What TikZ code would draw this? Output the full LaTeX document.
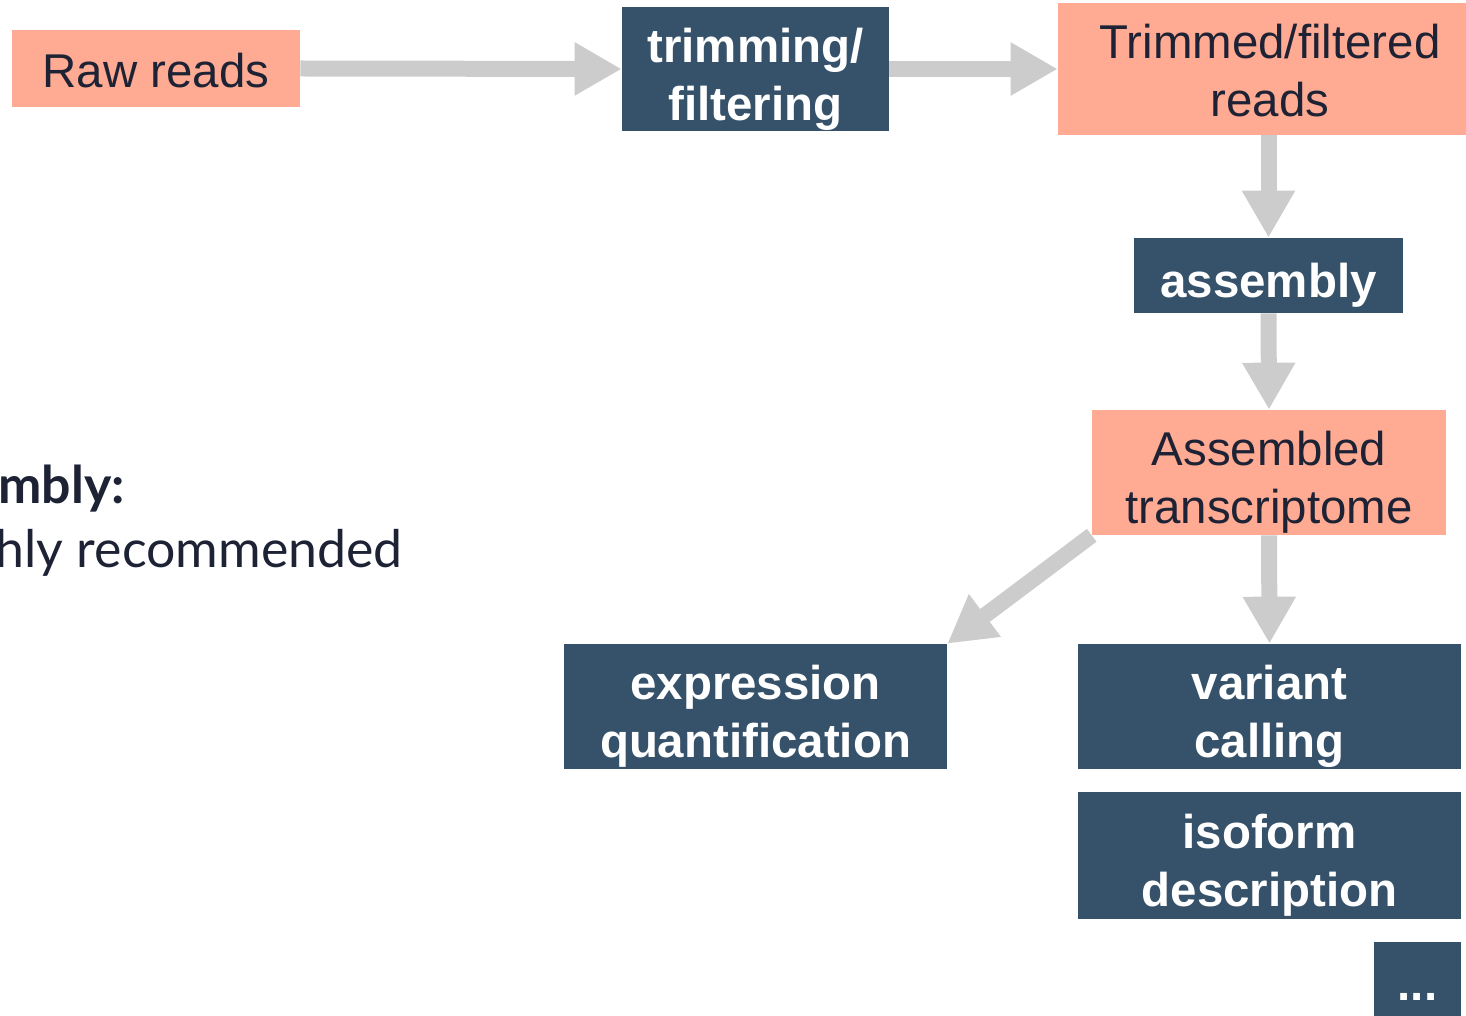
\documentclass[tikz,border=0pt]{standalone}
\usepackage{fontspec}
\setmainfont{Liberation Sans}
\newfontfamily\notefont{Lato}
\usepackage{tikz}
\usetikzlibrary{positioning,arrows.meta}
\definecolor{salmon}{HTML}{FFAA92}
\definecolor{slate}{HTML}{36526A}
\definecolor{ink}{HTML}{1E2235}
\definecolor{shaft}{HTML}{CCCCCC}
\tikzstyle{data} = [fill=salmon,text=ink,align=center,inner sep=0pt,font=\fontsize{27}{33}\selectfont]
\tikzstyle{tool} = [fill=slate,text=white,align=center,inner sep=0pt,font=\fontsize{27}{33}\selectfont\bfseries]
\tikzstyle{oneline} = [text height=25.2pt,text depth=0pt]
\tikzstyle{twoline} = [text height=58.5pt,text depth=0pt]
\tikzstyle{note} = [text=ink,inner sep=0pt,font=\notefont\fontsize{29.5}{36}\selectfont]
\tikzstyle{arrow} = [draw=shaft,line width=0.32cm,-{Triangle[width=1.0cm,length=0.94cm]}]

\begin{document}
\begin{tikzpicture}[x=0.02cm,y=-0.02cm]
\useasboundingbox (0,0) rectangle (1466,1016);
\clip (0,0) rectangle (1466,1016);
% data boxes
\node[data,oneline,text height=21.8pt,minimum width=5.76cm,minimum height=1.54cm] (raw) at (156,68.5) {Raw reads};
\node[data,twoline,text height=54pt,minimum width=8.16cm,minimum height=2.64cm] (trimd) at (1262,69) {\hspace*{0.32cm}Trimmed/filtered\\\hspace*{0.32cm}reads};
\node[data,twoline,minimum width=7.08cm,minimum height=2.5cm] (asm) at (1269,472.5) {Assembled\\transcriptome};
% tool boxes
\node[tool,twoline,minimum width=5.34cm,minimum height=2.48cm] (trim) at (755.5,69) {trimming/\\filtering};
\node[tool,oneline,minimum width=5.38cm,minimum height=1.5cm] (asmb) at (1268.5,275.5) {assembly};
\node[tool,twoline,minimum width=7.66cm,minimum height=2.5cm] (expr) at (755.5,706.5) {expression\\quantification};
\node[tool,twoline,minimum width=7.66cm,minimum height=2.5cm] (var) at (1269.5,706.5) {variant\\calling};
\node[tool,twoline,minimum width=7.66cm,minimum height=2.54cm] (iso) at (1269.5,855.5) {isoform\\description};
\node[tool,minimum width=1.74cm,minimum height=2.2cm] (more) at (1417.5,997) {...};
% side note
\node[note,anchor=base east] (head) at (125,503) {\bfseries Assembly:};
\node[note,anchor=base east] (rec) at (403,567) {highly recommended};
% arrows
\draw[arrow] (raw.east) -- (trim.west);
\draw[arrow] (trim.east) -- (trimd.west);
\draw[arrow] (asmb.north |- trimd.south) -- (asmb.north);
\draw[arrow] (asmb.south) -- (asm.north);
\draw[arrow] (asm.south west) -- (expr.north east);
\draw[arrow] (asm.south) -- (var.north);
\end{tikzpicture}
\end{document}
